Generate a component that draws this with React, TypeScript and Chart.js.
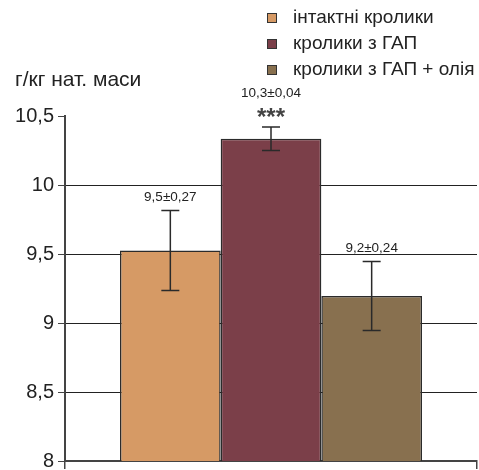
import React, { useEffect, useRef } from 'react';
import { Chart, registerables } from 'chart.js';

Chart.register(...registerables);

const groups = ['інтактні кролики', 'кролики з ГАП', 'кролики з ГАП + олія'];
const means = [9.525, 10.335, 9.195];
const errors = [0.29, 0.085, 0.25];
const valueLabels = ['9,5±0,27', '10,3±0,04', '9,2±0,24'];
const significance = ['', '***', ''];
const colors = ['#D69A65', '#7B3F49', '#88704F'];
const yMin = 8;
const yMax = 10.5;
const yStep = 0.5;
const yTitle = 'г/кг нат. маси';

const FONT = '"Liberation Sans", Arial, sans-serif';

const overlayPlugin = {
  id: 'overlay',
  afterDatasetsDraw(chart: any) {
    const ctx = chart.ctx;
    const y = chart.scales.y;
    ctx.save();
    for (let i = 0; i < means.length; i++) {
      const bar = chart.getDatasetMeta(i).data[0];
      const x = bar.x;
      const top = y.getPixelForValue(means[i] + errors[i]);
      const bot = y.getPixelForValue(means[i] - errors[i]);
      ctx.strokeStyle = '#2a2a2a';
      ctx.lineWidth = 1.5;
      ctx.beginPath();
      ctx.moveTo(x, top);
      ctx.lineTo(x, bot);
      ctx.moveTo(x - 9, top);
      ctx.lineTo(x + 9, top);
      ctx.moveTo(x - 9, bot);
      ctx.lineTo(x + 9, bot);
      ctx.stroke();

      ctx.textAlign = 'center';
      ctx.textBaseline = 'alphabetic';
      let labelBase = top - 10;
      if (significance[i]) {
        ctx.font = `bold 24px ${FONT}`;
        ctx.fillStyle = '#444';
        ctx.fillText(significance[i], x, top - 2);
        labelBase = top - 30;
      }
      ctx.fillStyle = '#222';
      ctx.font = `13.5px ${FONT}`;
      ctx.fillText(valueLabels[i], x, labelBase);
    }
    ctx.restore();
  },
  afterDraw(chart: any) {
    const ctx = chart.ctx;
    ctx.save();
    ctx.font = `19px ${FONT}`;
    ctx.textAlign = 'left';
    ctx.textBaseline = 'middle';
    for (let i = 0; i < groups.length; i++) {
      const cy = 18 + i * 26;
      ctx.fillStyle = colors[i];
      ctx.fillRect(267, cy - 5, 10, 10);
      ctx.strokeStyle = '#333';
      ctx.lineWidth = 1;
      ctx.strokeRect(267.5, cy - 4.5, 9, 9);
      ctx.fillStyle = '#222';
      ctx.fillText(groups[i], 293, cy);
    }
    ctx.font = `21px ${FONT}`;
    ctx.fillText(yTitle, 15, 80);
    ctx.restore();
  },
};

export default function App() {
  const ref = useRef<HTMLCanvasElement>(null);
  useEffect(() => {
    const chart = new Chart(ref.current as HTMLCanvasElement, {
      type: 'bar',
      data: {
        labels: [''],
        datasets: groups.map((g, i) => ({
          label: g,
          data: [means[i]],
          backgroundColor: colors[i],
          borderColor: '#2b2b2b',
          borderWidth: 1.5,
          borderSkipped: false,
          categoryPercentage: 0.733,
          barPercentage: 1,
        })),
      },
      options: {
        animation: false,
        responsive: false,
        devicePixelRatio: 1,
        layout: { padding: { top: 116, right: 2, bottom: 1, left: 0 } },
        plugins: { legend: { display: false }, tooltip: { enabled: false } },
        scales: {
          x: {
            type: 'category',
            offset: true,
            ticks: { display: false },
            grid: {
              offset: true,
              drawOnChartArea: false,
              tickLength: 8,
              color: '#444',
              lineWidth: 1.5,
            },
            border: { color: '#444', width: 2 },
            afterFit: (s: any) => {
              s.height = 8;
            },
          },
          y: {
            min: yMin,
            max: yMax,
            ticks: {
              stepSize: yStep,
              padding: 4,
              color: '#222',
              font: { family: FONT, size: 20 },
              callback: (v: any) => String(v).replace('.', ','),
            },
            grid: {
              color: (c: any) => (c.tick && (c.tick.value === yMax || c.tick.value === yMin) ? 'rgba(0,0,0,0)' : '#222'),
              tickColor: '#444',
              tickLength: 7,
              lineWidth: 1,
            },
            border: { color: '#444', width: 2 },
            afterFit: (s: any) => {
              s.width = 65;
              s.paddingTop = 0;
              s.paddingBottom = 0;
            },
          },
        },
      },
      plugins: [overlayPlugin],
    });
    return () => chart.destroy();
  }, []);
  return (
    <div style={{ position: 'fixed', left: 0, top: 0, width: 479, height: 470 }}>
      <canvas ref={ref} width={479} height={470} />
    </div>
  );
}
